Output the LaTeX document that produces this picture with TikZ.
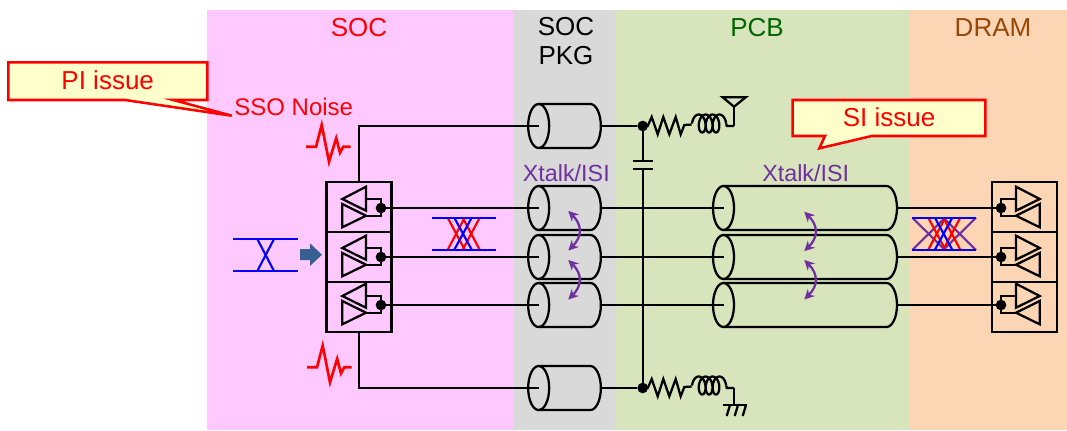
\documentclass[tikz,border=0pt]{standalone}
\usepackage{fontspec}
\setmainfont{Liberation Sans}
\usetikzlibrary{shapes,arrows.meta,positioning,calc}
\definecolor{socbg}{HTML}{FFC9FF}
\definecolor{pkgbg}{HTML}{D9D9D9}
\definecolor{pcbbg}{HTML}{D8E4BC}
\definecolor{drambg}{HTML}{FCD5B4}
\definecolor{noteyellow}{HTML}{FFFFCC}
\definecolor{xtalkpurple}{HTML}{7030A0}
\definecolor{pcbgreen}{HTML}{006600}
\definecolor{drambrown}{HTML}{984806}
\definecolor{blockblue}{HTML}{376092}
% outline of a line segment on its box node
\newcommand{\tubeshape}[1]{
    \draw [wire] ($(#1.west)+(10.5,0)$) ellipse [x radius=10.5, y radius=22];
    \draw [wire] ($(#1.north west)+(10.5,0)$) -- ($(#1.north east)+(-10.5,0)$) arc [start angle=-90, end angle=90, x radius=10.5, y radius=22] -- ($(#1.south west)+(10.5,0)$);
}

\begin{document}
\begin{tikzpicture}[
    x=0.75pt, y=-0.75pt,
    wire/.style={line width=1.7pt, draw=black},
    eyeline/.style={line width=1.6pt},
    noiseline/.style={line width=2pt, draw=red},
    notebox/.style={draw=red, line width=1.9pt, fill=noteyellow},
    title/.style={font=\fontsize{19.5}{19.5}\selectfont, align=center},
    notetext/.style={font=\fontsize{19.5}{23.5}\selectfont, text=red},
    ssotext/.style={font=\fontsize{18}{21}\selectfont, text=red},
    xtalklabel/.style={font=\fontsize{17.5}{21}\selectfont, text=xtalkpurple},
    cellbox/.style={rectangle, draw=black, line width=1.7pt, minimum width=48.75pt, minimum height=37.5pt, inner sep=0pt, outer sep=0pt},
    tline/.style={rectangle, minimum width=54.5pt, minimum height=33pt, inner sep=0pt, outer sep=0pt},
    longline/.style={tline, minimum width=138pt},
    dot/.style={circle, fill=black, minimum size=8pt, inner sep=0pt, outer sep=0pt},
    xarr/.style={{Stealth[length=7.5pt, width=7.5pt]}-{Stealth[length=7.5pt, width=7.5pt]}, line width=1.7pt, draw=xtalkpurple},
    buffer/.pic={
        \draw [wire] (-38.7,-9) -- (-15,-21.3) -- (-15,2.7) -- cycle;
        \draw [wire] (-38.7,-4) -- (-15,7.7) -- (-38.7,19.3) -- cycle;
        \draw [wire] (-15,-9) -- (0,-9) -- (0,7.7) -- (-15,7.7);
    },
    eye/.pic={
        \foreach \xa in {16,31} {
            \draw [eyeline, red] (\xa,0) -- (\xa+17,32);
            \draw [eyeline, red] (\xa+17,0) -- (\xa,32);
        }
        \draw [eyeline, blue] (22.6,0) -- (40,32);
        \draw [eyeline, blue] (40,0) -- (22.6,32);
        \draw [eyeline, blue] (0,0) -- (64,0);
        \draw [eyeline, blue] (0,32) -- (64,32);
    },
    noise/.pic={
        \draw [noiseline] (0,0) -- (10,0) -- (15.7,-21.7) -- (23,15) -- (30.2,-8.4) -- (34,6) -- (37.3,0) -- (44.7,0);
    },
    rlchain/.pic={
        \draw [wire] (0,0) -- (5,0) -- (9,-9) -- (15,8.3) -- (20.6,-9) -- (26.6,8.3) -- (33,-9) -- (38,8.3) -- (41.6,-1) -- (49,-1.5);
        \draw [wire] plot[domain=0:3.5, samples=90] ({54.3+6.9*\x-5*cos(360*\x)}, {-2.5-9*sin(360*\x)});
        \draw [wire] (83.5,-2.5) -- (84,0) -- (91.3,0);
    }
]
    % bands
    \fill [socbg] (207,10) rectangle (513,430);
    \fill [pkgbg] (513,10) rectangle (615,430);
    \fill [pcbbg] (615,10) rectangle (910,430);
    \fill [drambg] (910,10) rectangle (1067,430);
    \useasboundingbox (0,0) rectangle (1067,430);

    \node [title, text=red] (soc) at (359,28) {SOC};
    \node [title, text=black] (socpkg) at (566,41) {SOC\\[2pt]PKG};
    \node [title, text=pcbgreen] (pcb) at (757,28) {PCB};
    \node [title, text=drambrown] (dram) at (993,28) {DRAM};

    % driver and receiver cells
    \node [cellbox] (drv1) at (359,207) {};
    \node [cellbox, below=0pt of drv1] (drv2) {};
    \node [cellbox, below=0pt of drv2] (drv3) {};
    \node [cellbox] (rcv1) at (1024.2,207) {};
    \node [cellbox, below=0pt of rcv1] (rcv2) {};
    \node [cellbox, below=0pt of rcv2] (rcv3) {};

    % lines
    \node [tline] (pkg0) at (564.5,126) {};
    \node [tline] (pkg4) at (564.5,388) {};
    \tubeshape{pkg0}
    \tubeshape{pkg4}
    \foreach \i/\ya in {1/208, 2/257, 3/305} {
        \node [dot] (dl\i) at (381,\ya) {};
        \node [dot] (dr\i) at (1001,\ya) {};
        \pic at (dl\i) {buffer};
        \pic [xscale=-1] at (dr\i) {buffer};
        \node [tline] (pkg\i) at (564.5,\ya) {};
        \node [longline] (pcb\i) at (805,\ya) {};
        \tubeshape{pkg\i}
        \tubeshape{pcb\i}
        \draw [wire] (dl\i) -- ($(pkg\i.west)+(10.5,0)$);
        \draw [wire] (pkg\i.east) -- ($(pcb\i.west)+(10.5,0)$);
        \draw [wire] (pcb\i.east) -- (dr\i);
    }

    % supply side
    \node [dot] (top) at (642.7,126) {};
    \node [dot] (bot) at (642.7,388) {};
    \draw [wire] (drv1.north) |- ($(pkg0.west)+(10.5,0)$);
    \draw [wire] (drv3.south) |- ($(pkg4.west)+(10.5,0)$);
    \draw [wire] (pkg0.east) -- (top);
    \draw [wire] (pkg4.east) -- (bot);
    \coordinate (capa) at (642.7,161);
    \coordinate (capb) at (642.7,169);
    \draw [wire] (top) -- (capa);
    \draw [wire] (capb) -- (bot);
    \draw [wire] ($(capa)+(-10,0)$) -- ($(capa)+(10,0)$);
    \draw [wire] ($(capb)+(-10,0)$) -- ($(capb)+(10,0)$);
    \pic at (top) {rlchain};
    \pic at (bot) {rlchain};
    \draw [wire] (734,126) -- (734,106.7);
    \draw [wire] (734,106.7) -- (722.7,97.3) -- (745.7,97.3) -- cycle;
    \draw [wire] (734,388) -- (734,405);
    \draw [wire] (723.3,405) -- (746.7,405);
    \foreach \xb in {730,738,746}
        \draw [wire] (\xb,405) -- (\xb-3.3,416);

    % eyes
    \draw [eyeline, blue] (233.3,239) -- (297.7,239);
    \draw [eyeline, blue] (233.3,271) -- (297.7,271);
    \draw [eyeline, blue] (257.3,239) -- (274,271);
    \draw [eyeline, blue] (274,239) -- (257.3,271);
    \fill [blockblue] (300,249) -- (310,249) -- (310,243.3) -- (322,254.7) -- (310,266) -- (310,260) -- (300,260) -- cycle;
    \pic at (431.7,217.7) {eye};
    \draw [eyeline, xtalkpurple] (912.3,217.7) -- (945,250);
    \draw [eyeline, xtalkpurple] (945,217.7) -- (912.3,250);
    \draw [eyeline, xtalkpurple] (943.3,217.7) -- (976,250);
    \draw [eyeline, xtalkpurple] (976,217.7) -- (943.3,250);
    \pic at (912.3,217.7) {eye};

    % crosstalk
    \node [xtalklabel] (xpkg) at (566.3,173) {Xtalk/ISI};
    \node [xtalklabel] (xpcb) at (805.7,173) {Xtalk/ISI};
    \foreach \xc/\yc in {568.3/211, 568.3/260, 804.3/211.7, 804.3/260} {
        \coordinate (xa) at (\xc,\yc);
        \coordinate (xb) at (\xc,\yc+39.5);
        \draw [xarr] (xa) .. controls ($(xa)+(14,14)$) and ($(xb)+(14,-14)$) .. (xb);
    }

    % noise and notes
    \pic at (306,146.7) {noise};
    \pic at (307,367.3) {noise};
    \node [ssotext] (sso) at (293.7,107) {SSO Noise};
    \draw [notebox] (8.3,62.3) -- (207.3,62.3) -- (207.3,100) -- (173.3,100) -- (231.7,115.7) -- (125,100) -- (8.3,100) -- cycle;
    \node [notetext] (pi) at (107.7,80) {PI issue};
    \draw [notebox] (792.7,100) -- (985.3,100) -- (985.3,136) -- (871.7,136) -- (819.3,148.3) -- (825,136) -- (792.7,136) -- cycle;
    \node [notetext] (si) at (889,117) {SI issue};
\end{tikzpicture}
\end{document}
